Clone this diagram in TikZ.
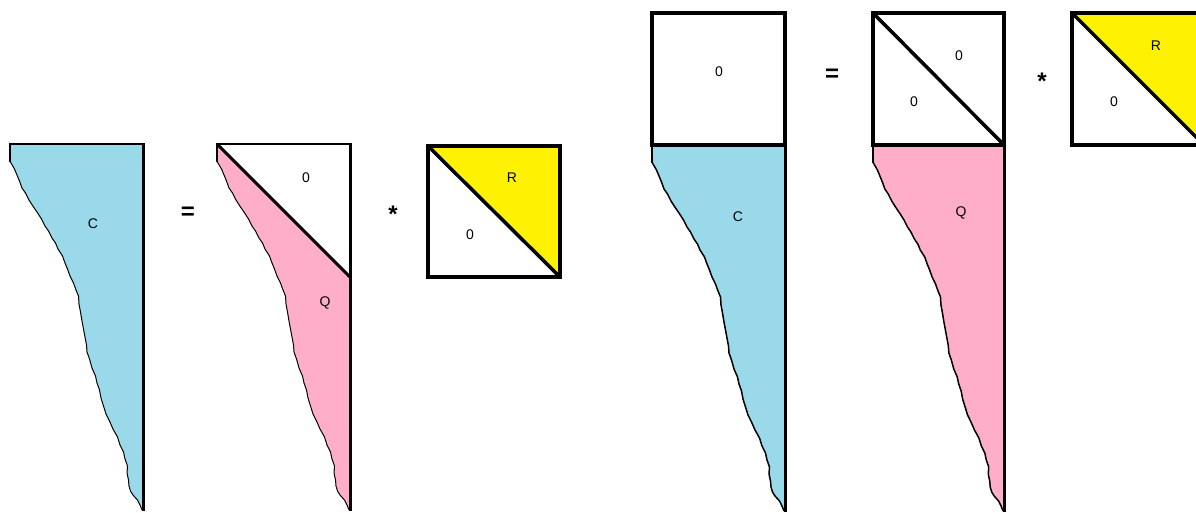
\documentclass[tikz,border=0pt]{standalone}
\usepackage{fontspec}
\setmainfont{Liberation Sans}
\definecolor{cblue}{RGB}{153,217,234}
\definecolor{qpink}{RGB}{255,174,201}
\definecolor{ryellow}{RGB}{255,242,0}
\newcommand\wavepath{(0,17) -- (1,19) -- (4.5,25) -- (7,31) -- (9.5,37) -- (12,44) -- (15.5,49) -- (19,56) -- (23.5,63) -- (27,68) -- (31.5,75) -- (35,82) -- (38.5,87) -- (42,94) -- (45.5,99) -- (48,105) -- (52.5,112) -- (55,119) -- (57.5,125) -- (60,132) -- (63.5,139) -- (66,146) -- (68.5,152) -- (69,160) -- (70.5,168) -- (72,177) -- (73.5,185) -- (75,193) -- (76.5,201) -- (77,208) -- (79.5,215) -- (82,224) -- (85.5,232) -- (87,239) -- (89.5,246) -- (91,254) -- (93.5,262) -- (96,270) -- (99.5,277) -- (103,285) -- (107.5,293) -- (110,301) -- (113.5,308) -- (115,315) -- (117.5,322) -- (117,329) -- (118.5,336) -- (119,342) -- (120.5,347) -- (123,351) -- (127.5,356) -- (130,361) -- (132,366)}
\newcommand\waveshape[3]{%
  \begin{scope}[#1]
    \fill[#2] (133,0) -- (0,0) -- \wavepath -- (133,366) -- cycle;
    \draw[line width=#3, line join=round] \wavepath;
    \draw[line width=2.5pt] (0,18) -- (0,0);
    \draw[line width=2pt] (-1,0) -- (134,0);
    \draw[line width=3pt] (133,-1) -- (133,367);
  \end{scope}}
\tikzset{
  lbl/.style={font=\fontsize{14}{16}\selectfont, inner sep=0pt},
  op/.style={font=\fontsize{24}{26}\selectfont\bfseries, inner sep=0pt},
  box/.style={line width=3.5pt},
}
\begin{document}
\begin{tikzpicture}[x=1pt,y=-1pt]
\clip (0,0) rectangle (1196,512);
\fill[white] (0,0) rectangle (1196,512);
% ---------- left equation ----------
\waveshape{shift={(10,144)}}{cblue}{1pt}
\node[lbl] (c1) at (93,224) {C};
\node[op] (eq1) at (188,213) {=};
% Q with zero triangle
\waveshape{shift={(217,144)}}{qpink}{1pt}
\fill[white] (217,144) -- (350,144) -- (350,277) -- cycle;
\draw[line width=2pt] (216,144) -- (351,144);
\draw[line width=3pt] (217,144) -- (350,277);
\draw[line width=3pt] (350,143) -- (350,511);
\node[lbl] (z1) at (306,178) {0};
\node[lbl] (q1) at (325,303) {Q};
\node[op] (st1) at (393,214) {*};
% R
\fill[ryellow] (428,146) -- (560,146) -- (560,277) -- cycle;
\draw[box] (428,146) rectangle (560,277);
\draw[line width=3.5pt] (428,146) -- (560,277);
\node[lbl] (r1) at (512,178) {R};
\node[lbl] (z2) at (470,235) {0};
% ---------- right equation ----------
\waveshape{shift={(652,145)}}{cblue}{1.5pt}
\draw[box] (652,13) rectangle (785,145);
\node[lbl] (z3) at (719,72) {0};
\node[lbl] (c2) at (738,217) {C};
\node[op] (eq2) at (832,75) {=};
\waveshape{shift={(873,145)},xscale=0.985}{qpink}{1.5pt}
\draw[box] (873,13) rectangle (1004,145);
\draw[line width=3.5pt] (873,13) -- (1004,145);
\node[lbl] (z4) at (959,56) {0};
\node[lbl] (z5) at (914,102) {0};
\node[lbl] (q2) at (961,213) {Q};
\node[op] (st2) at (1042,81) {*};
\fill[ryellow] (1072,13) -- (1204,13) -- (1204,145) -- cycle;
\draw[box] (1072,13) rectangle (1204,145);
\draw[line width=3.5pt] (1072,13) -- (1204,145);
\node[lbl] (r2) at (1156,46) {R};
\node[lbl] (z6) at (1114,102) {0};
\end{tikzpicture}
\end{document}
